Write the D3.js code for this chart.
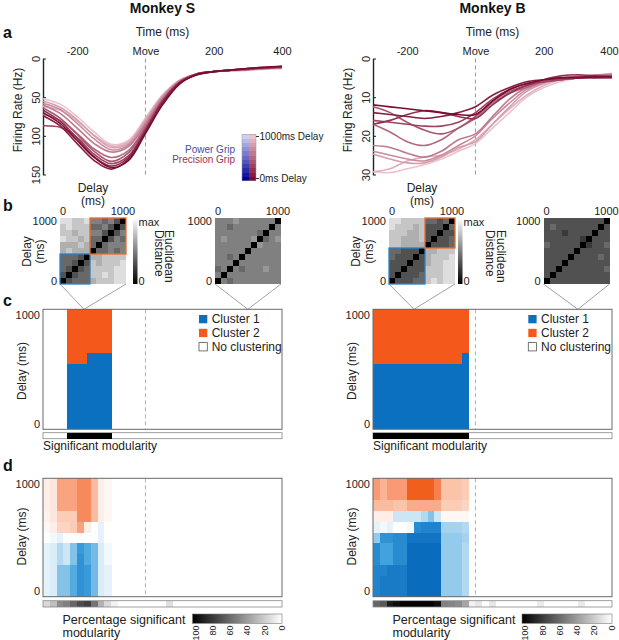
<!DOCTYPE html>
<html><head><meta charset="utf-8">
<script src="https://cdn.jsdelivr.net/npm/d3@7"></script>
<style>
body{margin:0;background:#fff;}
svg{display:block;font-family:"Liberation Sans",Arial,Helvetica,sans-serif;}
rect.cell{shape-rendering:crispEdges;}
</style></head><body>
<svg id="fig" width="619" height="640"></svg>
<script>
// ================= DATA =================
const monkeyNames = ["Monkey S", "Monkey B"];
const panelLetters = ["a", "b", "c", "d"];
const timePoints = [-300,-250,-200,-150,-100,-50,0,50,100,150,200,250,300,350,400];
const delays = [0,100,200,300,400,500,600,700,800,900,1000];
const timeTicks = [-200, 0, 200, 400];
const timeTickLabels = ["-200", "Move", "200", "400"];
const rateTicksS = [0, 50, 100, 150];
const rateTicksB = [0, 10, 20, 30];

// firing rate per delay (0ms ... 1000ms), at timePoints
const rateS = [
  [70,84,106,128,141,132,97,60,33,21,17,15,13,11,10],
  [74,87,110,132,143,130,95,58,32,21,17,15,13,12,10],
  [67,81,103,127,139,128,93,56,31,20,17,15,13,12,11],
  [87,89,102,124,136,126,92,55,31,20,17,15,13,12,11],
  [64,77,98,120,133,122,90,55,31,21,17,15,14,12,11],
  [72,80,97,117,128,119,88,53,30,20,17,15,14,13,12],
  [60,71,90,110,121,114,85,52,30,21,17,15,14,12,11],
  [58,66,84,104,118,112,83,50,29,20,17,15,14,13,12],
  [55,63,79,100,115,110,80,49,29,20,17,15,14,13,12],
  [62,67,81,99,113,108,79,48,28,20,17,16,15,13,13],
  [52,59,75,95,111,106,77,47,28,20,17,16,15,14,13]
];
const rateB = [
  [12,12.5,13,13.5,14,14.5,14.5,11,8,6.5,5.5,5,5,4.8,4.8],
  [14,14.5,15,15.5,15,14,12.5,9.5,7.5,6,5.5,5,4.8,4.6,4.6],
  [17,16,14.5,13.5,14,15,15.5,12,9,7,5.5,4.5,4.2,4.5,4.8],
  [16,16.5,17,17.5,17.5,16.5,14,10.5,8,6.5,6,5.5,5,5,5],
  [12.5,14,16.5,18.5,19.5,18,15,11,8.5,7,6,5.5,5,5,4.8],
  [17,19,21.5,22.5,21,18,15.5,11.5,9,7.5,6,5.5,5,4.8,4.5],
  [22.5,23,24.5,25.5,24,21,19.5,15,10.5,7.5,6,5,4.6,4.3,4.2],
  [24,25,26,26.5,25,22.5,20,15.5,11.5,8,6.2,5.2,4.6,4.3,4],
  [24.7,26,27,27,25.5,23,21.5,17,12.5,8.5,6.5,5.5,5,4.5,4],
  [29.3,28.5,26.5,25.5,25,23.5,21,17,13,9.5,7,5.5,5,4.5,4],
  [29.3,29.5,28.5,27.5,26,24,22,18,14,10,7.5,6,5,4.5,3.8]
];

// time at which each distance matrix is taken
const matrixTimes = [-180, 300];
// Euclidean distance matrices (tenths of max), rows listed top (1000ms) to bottom (0ms)
const distS_pre = [
  [9,9,8,8,9,5,5,4,5,3,0],
  [8,9,8,8,8,4,4,5,3,0,3],
  [8,8,7,8,8,5,5,3,0,3,5],
  [9,8,8,7,8,4,4,0,3,5,4],
  [7,7,7,8,7,4,0,4,5,5,5],
  [7,8,7,7,7,0,4,4,5,4,5],
  [4,4,4,3,0,7,7,8,8,8,8],
  [4,4,3,0,3,8,7,8,8,8,9],
  [4,3,0,3,4,8,8,8,8,9,9],
  [3,0,3,4,4,8,8,9,8,9,9],
  [0,3,4,4,4,7,8,8,8,9,9]
];
const distS_post = [
  [5,5,5,6,5,5,5,5,5,5,0],
  [5,5,4,5,5,5,5,5,5,0,5],
  [5,5,5,5,5,5,5,4,0,5,5],
  [5,6,5,5,5,5,6,0,4,5,6],
  [5,5,5,5,5,5,0,6,5,5,5],
  [5,5,5,5,5,0,5,5,5,5,5],
  [5,5,4,5,0,5,5,5,5,5,5],
  [5,5,5,0,5,5,5,5,5,5,5],
  [4,5,0,5,4,5,5,5,6,5,5],
  [5,0,5,5,5,5,5,5,5,5,5],
  [0,5,4,5,5,5,5,5,5,5,5]
];
const distB_pre = [
  [9,9,8,8,8,8,4,4,3,4,0],
  [9,8,8,8,7,8,3,3,3,0,4],
  [8,8,8,7,7,8,3,3,0,3,3],
  [8,8,7,7,7,8,3,0,3,3,4],
  [8,8,7,7,7,7,0,3,3,3,4],
  [4,4,3,3,3,0,7,7,8,8,8],
  [4,3,3,3,0,3,7,8,8,8,9],
  [3,3,3,0,3,3,7,8,8,9,9],
  [3,3,0,3,3,3,8,8,8,9,9],
  [3,0,3,3,3,4,8,8,8,9,9],
  [0,3,3,3,4,4,8,9,8,9,9]
];
const distB_post = [
  [3,3,3,3,3,3,3,3,3,3,0],
  [3,4,3,3,3,3,3,3,3,0,3],
  [3,3,3,2,3,3,3,3,0,3,3],
  [3,3,3,3,3,3,2,0,3,3,3],
  [4,3,3,3,3,3,0,2,3,3,4],
  [3,3,3,3,3,0,3,3,3,3,3],
  [3,3,3,3,0,3,3,3,3,4,3],
  [3,3,3,0,3,3,3,3,3,3,3],
  [3,3,0,3,3,3,3,3,3,3,4],
  [3,0,3,3,3,3,3,3,3,3,3],
  [0,3,3,3,3,3,3,3,3,3,3]
];
// cluster boxes in panel b (delay ranges)
const boxesS = {c1: [0, 400], c2: [500, 1000]};
const boxesB = {c1: [0, 500], c2: [600, 1000]};

// panel c: time segments with significant clustering; split = number of delays in cluster 1
const clusterSegS = [{t0: -230, t1: -170, split: 6}, {t0: -170, t1: -100, split: 7}];
const clusterSegB = [{t0: -300, t1: -40, split: 6}, {t0: -40, t1: -20, split: 7}];
const clusterLabels = ["Cluster 1", "Cluster 2", "No clustering"];

// panel d: 20 ms bins
const binStarts = [-300,-280,-260,-240,-220,-200,-180,-160,-140,-120,-100,-80,-60,-40,-20,0,20,40,60,80,100,120,140,160,180,200,220,240,260,280,300,320,340,360,380];
// signed fraction per bin (columns from -300ms), rows 0ms..1000ms: negative = cluster 1, positive = cluster 2
const fracS = [
  [-0.1,-0.1,-0.1,-0.1,-0.1,0,0.05,0.08,0.1,0.1,0.1],
  [-0.15,-0.15,-0.15,-0.15,-0.15,-0.05,0.1,0.15,0.15,0.15,0.15],
  [-0.45,-0.45,-0.45,-0.3,-0.3,-0.1,0.25,0.3,0.55,0.55,0.55],
  [-0.45,-0.45,-0.45,-0.2,-0.2,0,0.25,0.3,0.55,0.55,0.55],
  [-0.6,-0.6,-0.6,-0.45,-0.45,0,0.3,0.3,0.55,0.55,0.55],
  [-0.75,-0.75,-0.75,-0.75,-0.7,0,0.55,0.7,0.7,0.7,0.7],
  [-0.7,-0.7,-0.7,-0.6,-0.6,0,0.1,0.7,0.7,0.7,0.7],
  [-0.5,-0.5,-0.5,-0.5,-0.5,0,0,0.4,0.4,0.4,0.4],
  [-0.15,-0.15,-0.15,-0.15,-0.15,-0.1,-0.1,0.1,0.1,0.1,0.1],
  [-0.1,-0.1,-0.1,-0.05,-0.05,0,0,0.05,0.05,0.05,0.05]
];
const fracB = [
  [-0.85,-0.85,-0.85,-0.8,-0.8,-0.4,-0.1,0.1,0.4,0.6,0.6],
  [-0.9,-0.9,-0.85,-0.65,-0.65,-0.75,-0.05,0.1,0.4,0.45,0.45],
  [-0.9,-0.9,-0.9,-0.65,-0.65,-0.75,-0.1,0.1,0.4,0.6,0.6],
  [-0.9,-0.9,-0.9,-0.8,-0.8,-0.8,0,-0.2,0.35,0.6,0.6],
  [-0.9,-0.9,-0.9,-0.8,-0.8,-0.8,0,-0.2,0.35,0.6,0.6],
  [-1,-1,-1,-1,-1,-0.95,-0.05,-0.2,0.5,0.95,0.95],
  [-1,-1,-1,-1,-1,-0.95,-0.8,-0.2,0.5,0.95,0.95],
  [-1,-1,-1,-1,-1,-0.95,-0.85,-0.3,0.5,0.95,0.95],
  [-1,-1,-1,-1,-1,-0.95,-0.85,-0.45,0.5,0.95,0.95],
  [-1,-1,-1,-1,-1,-0.95,-0.85,-0.2,0.5,0.75,0.75],
  [-0.4,-0.4,-0.4,-0.4,-0.4,-0.4,-0.35,0.05,0.3,0.35,0.35],
  [-0.4,-0.4,-0.4,-0.4,-0.4,-0.4,-0.35,0.05,0.3,0.35,0.35],
  [-0.4,-0.4,-0.4,-0.4,-0.4,-0.4,-0.35,0.05,0.3,0.35,0.35],
  [-0.3,-0.3,-0.3,-0.3,-0.3,-0.35,-0.3,0.05,0.25,0.3,0.3]
];
// percentage significant modularity per bin
const pctS = [15,25,45,50,60,70,75,55,30,15,5,0,0,0,0,0,0,0,12,0,0,0,0,0,0,0,0,0,0,0,0,0,0,0,0];
const pctB = [60,65,90,95,100,100,100,100,100,95,50,48,45,35,5,10,0,10,0,0,0,0,0,0,8,0,0,0,0,0,8,0,0,0,0];
const pctTicks = [100, 80, 60, 40, 20, 0];

// ================= DRAWING =================
const FONT = '"Liberation Sans", Arial, Helvetica, sans-serif';
const svg = d3.select("#fig");
const COL1 = "#0a70bf", COL2 = "#f4581a";
const lineColor = d3.interpolateRgb("#7a0c32", "#ebc3cc");
const blueGrip = d3.interpolateRgb("#000099", "#cfcff2");
const blueMap = d3.piecewise(d3.interpolateRgb, ["#ffffff", "#aad5ef", "#3c9fdc", "#0a6cbd"]);
const orangeMap = d3.piecewise(d3.interpolateRgb, ["#ffffff", "#fbc7ae", "#f88f66", "#f0560f"]);
const grayPct = d3.scaleLinear([0, 100], ["#ffffff", "#000000"]);

function txt(g, x, y, s, o = {}) {
  const t = g.append("text").attr("x", x).attr("y", y).text(s)
    .attr("font-size", o.size || 11).attr("fill", o.fill || "#222")
    .attr("text-anchor", o.anchor || "start").attr("font-family", FONT);
  if (o.weight) t.attr("font-weight", o.weight);
  if (o.dy) t.attr("dy", o.dy);
  if (o.rotate != null) t.attr("transform", `rotate(${o.rotate},${x},${y})`);
  return t;
}

const defs = svg.append("defs");
const g1 = defs.append("linearGradient").attr("id", "gradV").attr("x1", 0).attr("y1", 0).attr("x2", 0).attr("y2", 1);
g1.append("stop").attr("offset", "0%").attr("stop-color", "#fff");
g1.append("stop").attr("offset", "100%").attr("stop-color", "#000");
const g2 = defs.append("linearGradient").attr("id", "gradH").attr("x1", 0).attr("y1", 0).attr("x2", 1).attr("y2", 0);
g2.append("stop").attr("offset", "0%").attr("stop-color", "#000");
g2.append("stop").attr("offset", "100%").attr("stop-color", "#fff");

// panel letters
[[3, 38], [3, 211], [3, 306], [3, 471]].forEach((p, i) =>
  txt(svg, p[0], p[1], panelLetters[i], {size: 16, weight: "bold", fill: "#111"}));

const cfgs = [
  {name: monkeyNames[0], x0: 43, x1: 282, rate: rateS, rateTicks: rateTicksS, rmax: 150,
   dist: [distS_pre, distS_post], boxes: boxesS, mats: [60, 215], cbX: 133, eucX: [165, 154.5],
   segs: clusterSegS, frac: fracS, pct: pctS, legX: 199, pcbX: 192.5, legendA: true, lastDx: 0},
  {name: monkeyNames[1], x0: 373, x1: 612, rate: rateB, rateTicks: rateTicksB, rmax: 30,
   dist: [distB_pre, distB_post], boxes: boxesB, mats: [389, 543.5], cbX: 458, eucX: [496.5, 485.5],
   segs: clusterSegB, frac: fracB, pct: pctB, legX: 528.3, pcbX: 522, legendA: false, lastDx: -3}
];

cfgs.forEach(c => {
  const xs = d3.scaleLinear([-300, 400], [c.x0, c.x1]);
  const cx = (c.x0 + c.x1) / 2;

  // ---------- title ----------
  txt(svg, cx, 13, c.name, {size: 14, weight: "bold", anchor: "middle", fill: "#111"});

  // ---------- panel a ----------
  const gA = svg.append("g");
  const yA = d3.scaleLinear([0, c.rmax], [58.5, 174.5]);
  txt(gA, cx, 36, "Time (ms)", {size: 12, anchor: "middle"});
  const axT = gA.append("g").attr("transform", "translate(0,58.5)")
    .call(d3.axisTop(xs).tickValues(timeTicks).tickFormat((d, i) => timeTickLabels[i]).tickSize(0).tickPadding(4));
  axT.select(".domain").remove();
  axT.attr("font-family", FONT).attr("font-size", 11).selectAll("text").attr("fill", "#222");
  axT.selectAll("text").filter(d => d === 400).attr("dx", c.lastDx);

  const axL = gA.append("g").attr("transform", `translate(${c.x0},0)`)
    .call(d3.axisLeft(yA).tickValues(c.rateTicks).tickSizeInner(-3).tickSizeOuter(0).tickPadding(3));
  axL.attr("font-family", FONT).attr("font-size", 11);
  axL.select(".domain").attr("stroke", "#222").attr("stroke-width", 1.4);
  axL.selectAll(".tick line").attr("stroke", "#222");
  axL.selectAll("text").attr("fill", "#222").attr("x", 0).attr("y", -3).attr("dy", 0)
    .attr("text-anchor", "middle").attr("transform", "rotate(-90)");
  txt(gA, c.x0 - 21.5, 110, "Firing Rate (Hz)", {size: 12, anchor: "middle", rotate: -90});

  gA.append("line").attr("x1", xs(0)).attr("x2", xs(0)).attr("y1", 58.5).attr("y2", 174.5)
    .attr("stroke", "#9a9a9a").attr("stroke-dasharray", "4,3").attr("stroke-width", 1);

  const line = d3.line().x((d, i) => xs(timePoints[i])).y(d => yA(d)).curve(d3.curveCatmullRom.alpha(0.5));
  for (let k = delays.length - 1; k >= 0; k--) {
    gA.append("path").attr("d", line(c.rate[k])).attr("fill", "none")
      .attr("stroke", lineColor(k / 10)).attr("stroke-width", 1.6);
  }

  if (c.legendA) {
    const lg = svg.append("g");
    const ly = d3.scaleBand(delays, [180.7, 134.3]);
    delays.forEach((d, k) => {
      lg.append("rect").attr("class", "cell").attr("x", 242).attr("y", ly(d)).attr("width", 7).attr("height", ly.bandwidth() + 0.3).attr("fill", blueGrip(k / 10));
      lg.append("rect").attr("class", "cell").attr("x", 249).attr("y", ly(d)).attr("width", 7).attr("height", ly.bandwidth() + 0.3).attr("fill", lineColor(k / 10));
    });
    lg.append("rect").attr("x", 242).attr("y", 134.3).attr("width", 14).attr("height", 46.4).attr("fill", "none").attr("stroke", "#999").attr("stroke-width", 0.5);
    [[136.5, "1000ms Delay"], [178.5, "0ms Delay"]].forEach(p => {
      lg.append("line").attr("x1", 256).attr("x2", 259).attr("y1", p[0]).attr("y2", p[0]).attr("stroke", "#333");
      txt(lg, 259.5, p[0] + 3.5, p[1], {size: 10});
    });
    txt(lg, 235, 153, "Power Grip", {size: 10, anchor: "end", fill: "#4a4aa8"});
    txt(lg, 235, 163, "Precision Grip", {size: 10, anchor: "end", fill: "#a3304e"});
  }

  // ---------- panel b ----------
  const gB = svg.append("g");
  const MY0 = 218, MS = 66;
  c.mats.forEach((mxPos, j) => {
    const mx = d3.scaleBand(delays, [mxPos, mxPos + MS]);
    const my = d3.scaleBand(delays, [MY0 + MS, MY0]);
    const bw = mx.bandwidth();
    const data = c.dist[j];
    delays.forEach((dy, ri) => delays.forEach((dx, ci) => {
      const val = data[10 - ri][ci];
      const v = Math.round(val / 10 * 235 + 10 * (val > 0));
      gB.append("rect").attr("class", "cell").attr("x", mx(dx)).attr("y", my(dy)).attr("width", bw + 0.3).attr("height", bw + 0.3)
        .attr("fill", val === 0 ? "#000" : `rgb(${v},${v},${v})`);
    }));
    txt(gB, mx(0) + bw / 2, 215, "0", {size: 11, anchor: "middle"});
    txt(gB, mx(1000) + bw / 2, 215, "1000", {size: 11, anchor: "middle"});
    txt(gB, mxPos - 3, my(1000) + bw / 2, "1000", {size: 11, anchor: "end", dy: "0.35em"});
    txt(gB, mxPos - 3, my(0) + bw / 2, "0", {size: 11, anchor: "end", dy: "0.35em"});
    // connectors to panel c
    const tx = xs(matrixTimes[j]);
    gB.append("path").attr("d", `M${mxPos},${MY0 + MS}L${tx},309.3L${mxPos + MS},${MY0 + MS}`)
      .attr("fill", "none").attr("stroke", "#8a8a8a").attr("stroke-width", 0.8);
    if (j === 0) {
      const b1 = c.boxes.c1, b2 = c.boxes.c2;
      gB.append("rect").attr("x", mx(b1[0])).attr("y", my(b1[1]))
        .attr("width", mx(b1[1]) + bw - mx(b1[0])).attr("height", my(b1[0]) + bw - my(b1[1]))
        .attr("fill", "none").attr("stroke", "#2a82c6").attr("stroke-width", 1.3);
      gB.append("rect").attr("x", mx(b2[0])).attr("y", my(b2[1]))
        .attr("width", mx(b2[1]) + bw - mx(b2[0])).attr("height", my(b2[0]) + bw - my(b2[1]))
        .attr("fill", "none").attr("stroke", "#ee6a2a").attr("stroke-width", 1.3);
      txt(gB, mxPos + MS / 2, 192, "Delay", {size: 12, anchor: "middle"});
      txt(gB, mxPos + MS / 2, 205, "(ms)", {size: 12, anchor: "middle"});
      txt(gB, mxPos - 29, 251.5, "Delay", {size: 12, anchor: "middle", rotate: -90});
      txt(gB, mxPos - 16, 251.5, "(ms)", {size: 12, anchor: "middle", rotate: -90});
      gB.append("rect").attr("x", c.cbX).attr("y", MY0).attr("width", 4.5).attr("height", MS).attr("fill", "url(#gradV)");
      txt(gB, c.cbX + 5.5, 225.5, "max", {size: 11});
      txt(gB, c.cbX + 5.5, 285, "0", {size: 11});
      txt(gB, c.eucX[0], 230, "Euclidean", {size: 12, rotate: 90});
      txt(gB, c.eucX[1], 230, "Distance", {size: 12, rotate: 90});
    }
  });

  // ---------- panel c ----------
  const gC = svg.append("g");
  const CY0 = 309.3, CY1 = 429.3;
  const yC = d3.scaleBand(delays, [CY1, CY0]);
  c.segs.forEach(s => {
    const yb = yC(delays[s.split - 1]);
    gC.append("rect").attr("class", "cell").attr("x", xs(s.t0)).attr("width", xs(s.t1) - xs(s.t0) + 0.5)
      .attr("y", yb).attr("height", CY1 - yb).attr("fill", COL1);
    gC.append("rect").attr("class", "cell").attr("x", xs(s.t0)).attr("width", xs(s.t1) - xs(s.t0) + 0.5)
      .attr("y", CY0).attr("height", yb - CY0).attr("fill", COL2);
  });
  gC.append("line").attr("x1", xs(0)).attr("x2", xs(0)).attr("y1", CY0).attr("y2", CY1)
    .attr("stroke", "#b0b0b0").attr("stroke-dasharray", "4,3");
  gC.append("rect").attr("x", c.x0).attr("y", CY0).attr("width", c.x1 - c.x0).attr("height", CY1 - CY0)
    .attr("fill", "none").attr("stroke", "#6a6a6a").attr("stroke-width", 1);
  txt(gC, c.x0 - 3, yC(1000) + yC.bandwidth() / 2, "1000", {size: 11, anchor: "end", dy: "0.35em"});
  txt(gC, c.x0 - 3, yC(0) + yC.bandwidth() / 2, "0", {size: 11, anchor: "end", dy: "0.35em"});
  txt(gC, c.x0 - 17, 371, "Delay (ms)", {size: 12, anchor: "middle", rotate: -90});
  // legend
  [COL1, COL2, "#fff"].forEach((col, i) => {
    const yy = 315 + i * 13.8;
    gC.append("rect").attr("x", c.legX).attr("y", yy).attr("width", 8.3).attr("height", 8.3)
      .attr("fill", col).attr("stroke", i === 2 ? "#555" : "none").attr("stroke-width", 0.8);
    txt(gC, c.legX + 12.7, yy + 8.3, clusterLabels[i], {size: 12});
  });
  // significance bar
  gC.append("rect").attr("x", c.x0).attr("y", 432.7).attr("width", c.x1 - c.x0).attr("height", 6)
    .attr("fill", "#fff").attr("stroke", "#888").attr("stroke-width", 0.8);
  c.segs.forEach(s => {
    gC.append("rect").attr("class", "cell").attr("x", xs(s.t0)).attr("width", xs(s.t1) - xs(s.t0) + 0.5)
      .attr("y", 432.7).attr("height", 6).attr("fill", "#000");
  });
  txt(gC, c.x0, 450, "Significant modularity", {size: 12});

  // ---------- panel d ----------
  const gD = svg.append("g");
  const DY0 = 478.3, DY1 = 596.7;
  const yD = d3.scaleBand(delays, [DY1, DY0]);
  c.frac.forEach((col, j) => {
    const t = binStarts[j];
    col.forEach((v, ri) => {
      const fill = v < 0 ? blueMap(-v) : orangeMap(v);
      gD.append("rect").attr("class", "cell").attr("x", xs(t)).attr("width", xs(t + 20) - xs(t) + 0.5)
        .attr("y", yD(delays[ri])).attr("height", yD.bandwidth() + 0.5).attr("fill", fill);
    });
  });
  gD.append("line").attr("x1", xs(0)).attr("x2", xs(0)).attr("y1", DY0).attr("y2", DY1)
    .attr("stroke", "#b0b0b0").attr("stroke-dasharray", "4,3");
  gD.append("rect").attr("x", c.x0).attr("y", DY0).attr("width", c.x1 - c.x0).attr("height", DY1 - DY0)
    .attr("fill", "none").attr("stroke", "#6a6a6a").attr("stroke-width", 1);
  txt(gD, c.x0 - 3, yD(1000) + yD.bandwidth() / 2, "1000", {size: 11, anchor: "end", dy: "0.35em"});
  txt(gD, c.x0 - 3, yD(0) + yD.bandwidth() / 2, "0", {size: 11, anchor: "end", dy: "0.35em"});
  txt(gD, c.x0 - 17, 536.5, "Delay (ms)", {size: 12, anchor: "middle", rotate: -90});
  // percentage bar
  c.pct.forEach((p, j) => {
    const t = binStarts[j];
    gD.append("rect").attr("class", "cell").attr("x", xs(t)).attr("width", xs(t + 20) - xs(t) + 0.5)
      .attr("y", 600.7).attr("height", 6.3).attr("fill", grayPct(p));
  });
  gD.append("rect").attr("x", c.x0).attr("y", 600.7).attr("width", c.x1 - c.x0).attr("height", 6.3)
    .attr("fill", "none").attr("stroke", "#888").attr("stroke-width", 0.8);
  txt(gD, c.x0 + 19.5, 623.5, "Percentage significant", {size: 12.5});
  txt(gD, c.x0 + 19.5, 637, "modularity", {size: 12.5});
  // colorbar
  gD.append("rect").attr("x", c.pcbX).attr("y", 614).attr("width", c.x1 - c.pcbX).attr("height", 9.3)
    .attr("fill", "url(#gradH)").attr("stroke", "#777").attr("stroke-width", 0.6);
  const ps = d3.scaleLinear([100, 0], [c.pcbX + 3, c.x1 - 0.5]);
  pctTicks.forEach(p => {
    txt(gD, ps(p) + 3.2, 625.5, String(p), {size: 9, anchor: "end", rotate: -90});
  });
});
</script>
</body></html>
